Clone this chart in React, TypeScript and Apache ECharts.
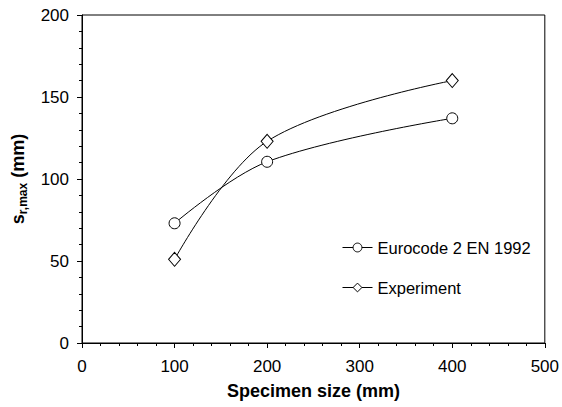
import React, { useEffect, useRef } from "react";
import * as echarts from "echarts";

const sizes = [100, 200, 400];
const eurocode = [73, 110.5, 137];
const experiment = [51, 123, 160];
const seriesNames = ["Eurocode 2 EN 1992", "Experiment"];

const FONT = "'Liberation Sans', Arial, sans-serif";

export default function App() {
  const ref = useRef<HTMLDivElement>(null);
  useEffect(() => {
    const chart = echarts.init(ref.current!, null, { renderer: "svg" });
    const mk = (vals: number[]) => sizes.map((s, i) => [s, vals[i]]);
    chart.setOption({
      animation: false,
      backgroundColor: "#ffffff",
      textStyle: { fontFamily: FONT },
      grid: {
        left: 82,
        right: 14,
        top: 15,
        bottom: 64,
        show: true,
        borderColor: "#000",
        borderWidth: 1,
        containLabel: false,
      },
      legend: {
        orient: "vertical",
        left: 337,
        top: 234,
        itemWidth: 30,
        itemHeight: 11,
        itemGap: 23,
        data: seriesNames,
        lineStyle: { width: 1, color: "#000" },
        itemStyle: { borderWidth: 1, borderColor: "#000", color: "#fff" },
        textStyle: { fontFamily: FONT, fontSize: 16.5, color: "#000" },
      },
      xAxis: {
        type: "value",
        min: 0,
        max: 500,
        interval: 100,
        name: "Specimen size (mm)",
        nameLocation: "middle",
        nameGap: 39,
        nameTextStyle: { fontFamily: FONT, fontSize: 18, fontWeight: "bold", color: "#000" },
        axisLine: { lineStyle: { color: "#000", width: 1 } },
        axisTick: { show: true, inside: false, length: 5, lineStyle: { color: "#000" } },
        minorTick: { show: true, splitNumber: 5, length: 3, lineStyle: { color: "#000" } },
        axisLabel: { fontFamily: FONT, fontSize: 17, color: "#000", margin: 15 },
        splitLine: { show: false },
      },
      yAxis: {
        type: "value",
        min: 0,
        max: 200,
        interval: 50,
        name: "{a|s}{b|r,max}{a| (mm)}",
        nameLocation: "middle",
        nameGap: 53,
        nameRotate: 90,
        nameTextStyle: {
          fontFamily: FONT,
          color: "#000",
          rich: {
            a: { fontFamily: FONT, fontSize: 18, fontWeight: "bold", color: "#000", lineHeight: 22, verticalAlign: "middle" },
            b: { fontFamily: FONT, fontSize: 12, fontWeight: "bold", color: "#000", lineHeight: 15, verticalAlign: "bottom" },
          },
        },
        axisLine: { show: true, lineStyle: { color: "#000", width: 1 } },
        axisTick: { show: true, inside: false, length: 5, lineStyle: { color: "#000" } },
        minorTick: { show: true, splitNumber: 5, length: 3, lineStyle: { color: "#000" } },
        axisLabel: { fontFamily: FONT, fontSize: 17, color: "#000", margin: 13 },
        splitLine: { show: false },
      },
      series: [
        {
          name: seriesNames[0],
          type: "line",
          data: mk(eurocode),
          smooth: 0.35,
          symbol: "circle",
          symbolSize: 11,
          lineStyle: { color: "#000", width: 1 },
          itemStyle: { color: "#fff", borderColor: "#000", borderWidth: 1 },
        },
        {
          name: seriesNames[1],
          type: "line",
          data: mk(experiment),
          smooth: 0.35,
          symbol: "diamond",
          symbolSize: [12, 14],
          lineStyle: { color: "#000", width: 1 },
          itemStyle: { color: "#fff", borderColor: "#000", borderWidth: 1 },
        },
      ],
    });
    return () => chart.dispose();
  }, []);
  return <div ref={ref} style={{ width: 562, height: 407, position: "absolute", left: 0, top: 0 }} />;
}
